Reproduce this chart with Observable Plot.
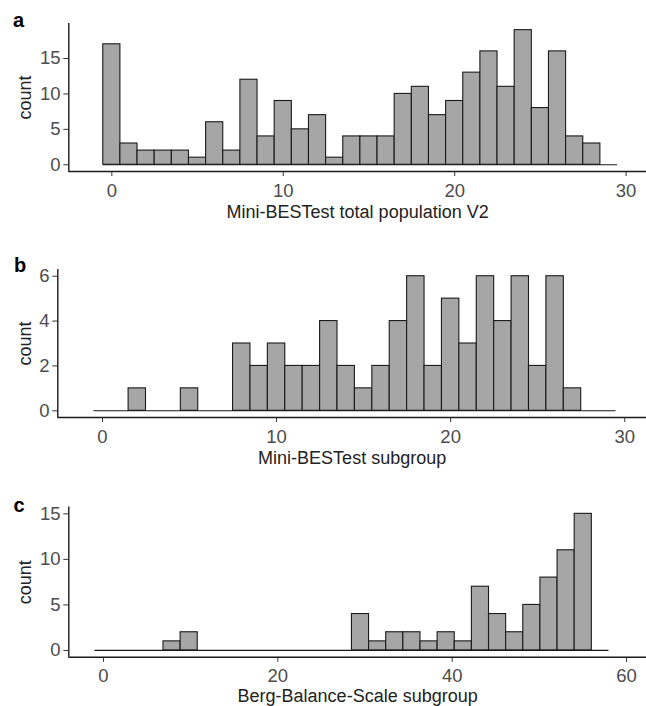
<!DOCTYPE html>
<html>
<head>
<meta charset="utf-8">
<script src="https://cdn.jsdelivr.net/npm/d3@7"></script>
<script src="https://cdn.jsdelivr.net/npm/@observablehq/plot@0.6"></script>
<style>
  html, body { margin: 0; padding: 0; background: #fff; }
  #chart { width: 646px; height: 706px; overflow: hidden; }
  #chart svg { display: block; }
</style>
</head>
<body>
<div id="chart"></div>
<script>
// ---- Data ----
// Panel a: Mini-BESTest total population V2 (30 bins, width 1, first bin centred on 0)
const aCounts = [17, 3, 2, 2, 2, 1, 6, 2, 12, 4, 9, 5, 7, 1, 4, 4, 4, 10, 11, 7, 9, 13, 16, 11, 19, 8, 16, 4, 3, 0];
const aBinStart = -0.5;
const aBinWidth = 1;
const aXTicks = [0, 10, 20, 30];
const aYTicks = [0, 5, 10, 15];

// Panel b: Mini-BESTest subgroup
const bCounts = [0, 0, 1, 0, 0, 1, 0, 0, 3, 2, 3, 2, 2, 4, 2, 1, 2, 4, 6, 2, 5, 3, 6, 4, 6, 2, 6, 1, 0, 0];
const bBinStart = -0.5;
const bBinWidth = 1;
const bXTicks = [0, 10, 20, 30];
const bYTicks = [0, 2, 4, 6];

// Panel c: Berg-Balance-Scale subgroup (30 bins over 0..57)
const cCounts = [0, 0, 0, 0, 1, 2, 0, 0, 0, 0, 0, 0, 0, 0, 0, 4, 1, 2, 2, 1, 2, 1, 7, 4, 2, 5, 8, 11, 15, 0];
const cBinWidth = 57 / 29;
const cBinStart = -cBinWidth / 2;
const cXTicks = [0, 20, 40, 60];
const cYTicks = [0, 5, 10, 15];

const panelLabels = ["a", "b", "c"];
const xTitles = ["Mini-BESTest total population V2", "Mini-BESTest subgroup", "Berg-Balance-Scale subgroup"];
const yTitle = "count";

// ---- Layout (not data) ----
const layouts = [
  { height: 235, marginTop: 22.9, marginBottom: 64, marginLeft: 68.3, xDomain: [-2.51, 31.19], yDomain: [-0.95, 19.95], labelBaseline: 26, labelLeft: 12.5, titleDy: 34 },
  { height: 240, marginTop: 34, marginBottom: 58, marginLeft: 57.3, xDomain: [-2.567, 31.25], yDomain: [-0.3, 6.3], labelBaseline: 36.7, labelLeft: 13.5, titleDy: 34 },
  { height: 231, marginTop: 31.5, marginBottom: 49.2, marginLeft: 68.3, xDomain: [-3.98, 62.29], yDomain: [-0.75, 15.75], labelBaseline: 36.7, labelLeft: 13, titleDy: 31.5 }
];

const series = [
  { counts: aCounts, start: aBinStart, width: aBinWidth, xTicks: aXTicks, yTicks: aYTicks },
  { counts: bCounts, start: bBinStart, width: bBinWidth, xTicks: bXTicks, yTicks: bYTicks },
  { counts: cCounts, start: cBinStart, width: cBinWidth, xTicks: cXTicks, yTicks: cYTicks }
];

const LINE = "#1a1a1a";
const TICKTEXT = "#4D4D4D";
const FONT = "'Liberation Sans', Arial, Helvetica, sans-serif";

function panel(i) {
  const s = series[i];
  const L = layouts[i];
  const bins = s.counts.map((c, k) => ({
    x1: s.start + k * s.width,
    x2: s.start + (k + 1) * s.width,
    y1: 0,
    y2: c
  }));
  const xFirst = s.start;
  const xLast = s.start + s.counts.length * s.width;
  return Plot.plot({
    width: 646,
    height: L.height,
    marginLeft: L.marginLeft,
    marginRight: 0,
    marginTop: L.marginTop,
    marginBottom: L.marginBottom,
    style: { fontFamily: FONT, fontSize: "18.5px", background: "#fff", color: TICKTEXT, overflow: "visible" },
    x: { domain: L.xDomain },
    y: { domain: L.yDomain },
    marks: [
      Plot.rect(bins.filter(d => d.y2 > 0), { x1: "x1", x2: "x2", y1: "y1", y2: "y2", fill: "#A6A6A6", stroke: LINE, strokeWidth: 1.1 }),
      Plot.ruleY([0], { x1: xFirst, x2: xLast, stroke: LINE, strokeWidth: 1.2 }),
      Plot.ruleX([L.xDomain[0]], { stroke: LINE, strokeWidth: 1.4 }),
      Plot.ruleY([L.yDomain[0]], { stroke: LINE, strokeWidth: 1.4 }),
      Plot.axisX(s.xTicks, { tickSize: 5, tickPadding: 7, stroke: "#333", fill: TICKTEXT, label: null, tickFormat: d => String(d) }),
      Plot.axisY(s.yTicks, { tickSize: 5, tickPadding: 3.3, stroke: "#333", fill: TICKTEXT, label: null, tickFormat: d => String(d) }),
      Plot.text([xTitles[i]], { text: d => d, frameAnchor: "bottom", dy: L.titleDy, lineAnchor: "top", fontSize: 18, fill: "#222" }),
      Plot.text([yTitle], { text: d => d, frameAnchor: "left", dx: 25 - L.marginLeft, rotate: -90, textAnchor: "middle", lineAnchor: "middle", fontSize: 18, fill: "#222" }),
      Plot.text([panelLabels[i]], { text: d => d, frameAnchor: "top-left", dx: L.labelLeft - L.marginLeft, dy: L.labelBaseline - L.marginTop, textAnchor: "start", lineAnchor: "bottom", fontSize: 20, fontWeight: "bold", fill: "#000" })
    ]
  });
}

const root = document.getElementById("chart");
for (let i = 0; i < 3; i++) root.appendChild(panel(i));
</script>
</body>
</html>
